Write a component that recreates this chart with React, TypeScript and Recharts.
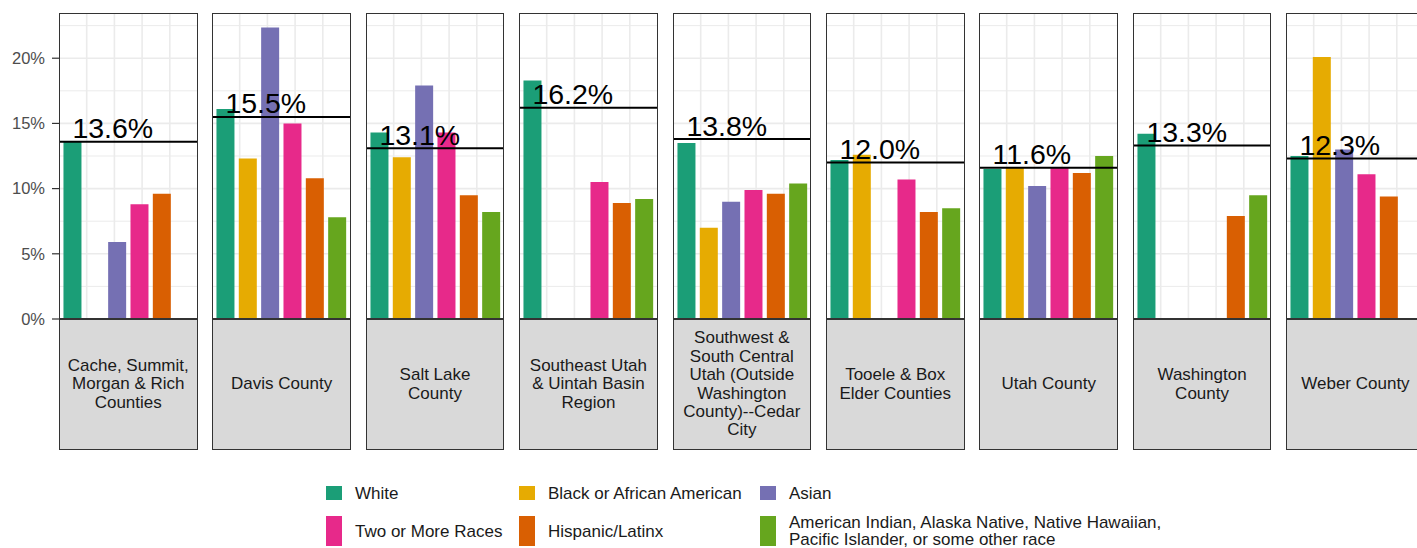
import React from 'react';
import { BarChart, Bar, XAxis, YAxis, CartesianGrid, ReferenceLine, ReferenceDot, Cell } from 'recharts';

const races = [
  'White',
  'Black or African American',
  'Asian',
  'Two or More Races',
  'Hispanic/Latinx',
  'American Indian, Alaska Native, Native Hawaiian, Pacific Islander, or some other race',
];
const raceColors = ['#1B9E77', '#E6AB02', '#7570B3', '#E7298A', '#D95F02', '#66A61E'];

const regionLabels = [
  'Cache, Summit,\nMorgan & Rich\nCounties',
  'Davis County',
  'Salt Lake\nCounty',
  'Southeast Utah\n& Uintah Basin\nRegion',
  'Southwest &\nSouth Central\nUtah (Outside\nWashington\nCounty)--Cedar\nCity',
  'Tooele & Box\nElder Counties',
  'Utah County',
  'Washington\nCounty',
  'Weber County',
];
const regionOverall = [13.6, 15.5, 13.1, 16.2, 13.8, 12.0, 11.6, 13.3, 12.3];

const whiteValues = [13.6, 16.1, 14.3, 18.3, 13.5, 12.2, 11.5, 14.2, 12.5];
const blackValues = [null, 12.3, 12.4, null, 7.0, 12.6, 11.6, null, 20.1];
const asianValues = [5.9, 22.35, 17.9, null, 9.0, null, 10.2, null, 13.0];
const twoOrMoreValues = [8.8, 15.0, 14.3, 10.5, 9.9, 10.7, 11.6, null, 11.1];
const hispanicValues = [9.6, 10.8, 9.5, 8.9, 9.6, 8.2, 11.2, 7.9, 9.4];
const aianValues = [null, 7.8, 8.2, 9.2, 10.4, 8.5, 12.5, 9.5, null];

const yTicks = [0, 5, 10, 15, 20];
const yMinorTicks = [2.5, 7.5, 12.5, 17.5, 22.5];

const seriesByRace = [whiteValues, blackValues, asianValues, twoOrMoreValues, hispanicValues, aianValues];

const allValues = seriesByRace.flat().filter((v) => v != null) as number[];
const yMax = Math.max(...allValues) * 1.05;

// positions of the discrete categories (1..n) on a numeric helper axis used for grid lines
const categoryPositions = races.map((_, i) => i + 1);
const DISCRETE_EXPAND = 0.6;

// layout constants
const PANEL_LEFT0 = 59;
const PANEL_STEP = 153.4;
const PANEL_W = 138.5;
const PANEL_TOP = 13;
const PANEL_H = 306;
const BOTTOM_PAD = 14;
const STRIP_H = 131;
const Y_AXIS_W = 59;
const UNIT = PANEL_W / (races.length - 1 + 2 * DISCRETE_EXPAND);
const FONT = '"Liberation Sans", Arial, Helvetica, sans-serif';

function panelData(r: number) {
  return races.map((race, i) => ({ race, value: seriesByRace[i][r] }));
}

function Panel({ r }: { r: number }) {
  const first = r === 0;
  const left = PANEL_LEFT0 + r * PANEL_STEP;
  const chartLeft = first ? left - Y_AXIS_W : left;
  const width = first ? PANEL_W + Y_AXIS_W : PANEL_W;
  const overall = regionOverall[r];
  return (
    <>
      <div style={{ position: 'absolute', left: chartLeft, top: PANEL_TOP }}>
        <BarChart
          width={width}
          height={PANEL_H + BOTTOM_PAD}
          data={panelData(r)}
          margin={{ top: 0, right: 0, bottom: BOTTOM_PAD, left: 0 }}
          barCategoryGap="10%"
          style={{ overflow: 'visible' }}
        >
          <XAxis
            dataKey="race"
            type="category"
            hide
            padding={{ left: UNIT * (DISCRETE_EXPAND - 0.5), right: UNIT * (DISCRETE_EXPAND - 0.5) }}
          />
          <XAxis
            xAxisId="grid"
            type="number"
            hide
            domain={[1 - DISCRETE_EXPAND, races.length + DISCRETE_EXPAND]}
            ticks={categoryPositions}
            allowDataOverflow
          />
          <YAxis
            type="number"
            domain={[0, yMax]}
            ticks={yTicks}
            interval={0}
            hide={!first}
            width={Y_AXIS_W}
            axisLine={false}
            tickSize={7}
            tickMargin={7}
            tickLine={{ stroke: '#333333', strokeWidth: 1.2 }}
            tick={{ fill: '#4d4d4d', fontSize: 16.5, fontFamily: FONT }}
            tickFormatter={(v: number) => `${v}%`}
            allowDataOverflow
          />
          <CartesianGrid
            xAxisId="grid"
            horizontal
            vertical={false}
            horizontalValues={yMinorTicks}
            stroke="#ebebeb"
            strokeWidth={1}
          />
          <CartesianGrid
            xAxisId="grid"
            horizontal
            vertical
            horizontalValues={yTicks}
            verticalValues={categoryPositions}
            stroke="#ebebeb"
            strokeWidth={1.6}
          />
          <Bar dataKey="value" isAnimationActive={false}>
            {races.map((race, i) => (
              <Cell key={race} fill={raceColors[i]} />
            ))}
          </Bar>
          <ReferenceLine y={overall} stroke="#000000" strokeWidth={2} />
          <ReferenceDot
            x={races[0]}
            y={overall}
            r={0}
            shape={(p: any) => (
              <text
                x={p.cx}
                y={p.cy - 3.5}
                fontSize={28.5}
                fontFamily={FONT}
                fill="#000000"
                textAnchor="start"
              >
                {`${overall.toFixed(1)}%`}
              </text>
            )}
          />
        </BarChart>
      </div>
      <div
        style={{
          position: 'absolute',
          left,
          top: PANEL_TOP,
          width: PANEL_W,
          height: PANEL_H,
          border: '1.3px solid #333333',
          boxSizing: 'border-box',
          pointerEvents: 'none',
        }}
      />
      <div
        style={{
          position: 'absolute',
          left,
          top: PANEL_TOP + PANEL_H,
          width: PANEL_W,
          height: STRIP_H,
          background: '#d9d9d9',
          border: '1.3px solid #333333',
          boxSizing: 'border-box',
          display: 'flex',
          alignItems: 'center',
          justifyContent: 'center',
          textAlign: 'center',
          whiteSpace: 'pre-line',
          fontFamily: FONT,
          fontSize: 17,
          lineHeight: '18.4px',
          color: '#1a1a1a',
        }}
      >
        {regionLabels[r]}
      </div>
    </>
  );
}

const LEGEND_COLS = [326, 519, 760];
const LEGEND_ROW_TOP = [486, 515.5];
const LEGEND_ROW_H = [14, 30.5];

function Legend() {
  return (
    <>
      {races.map((race, i) => {
        const row = Math.floor(i / 3);
        const col = i % 3;
        const x = LEGEND_COLS[col];
        const top = LEGEND_ROW_TOP[row];
        const h = LEGEND_ROW_H[row];
        return (
          <React.Fragment key={race}>
            <div
              style={{
                position: 'absolute',
                left: x,
                top,
                width: 15.5,
                height: h,
                background: raceColors[i],
              }}
            />
            <div
              style={{
                position: 'absolute',
                left: x + 29,
                top: top + h / 2,
                transform: 'translateY(-50%)',
                maxWidth: 400,
                fontFamily: FONT,
                fontSize: 17,
                lineHeight: '17px',
                color: '#1a1a1a',
              }}
            >
              {race}
            </div>
          </React.Fragment>
        );
      })}
    </>
  );
}

export default function App() {
  return (
    <div
      style={{
        position: 'absolute',
        left: 0,
        top: 0,
        width: 1417,
        height: 548,
        overflow: 'hidden',
        background: '#ffffff',
      }}
    >
      {regionLabels.map((_, r) => (
        <Panel key={r} r={r} />
      ))}
      <Legend />
    </div>
  );
}
